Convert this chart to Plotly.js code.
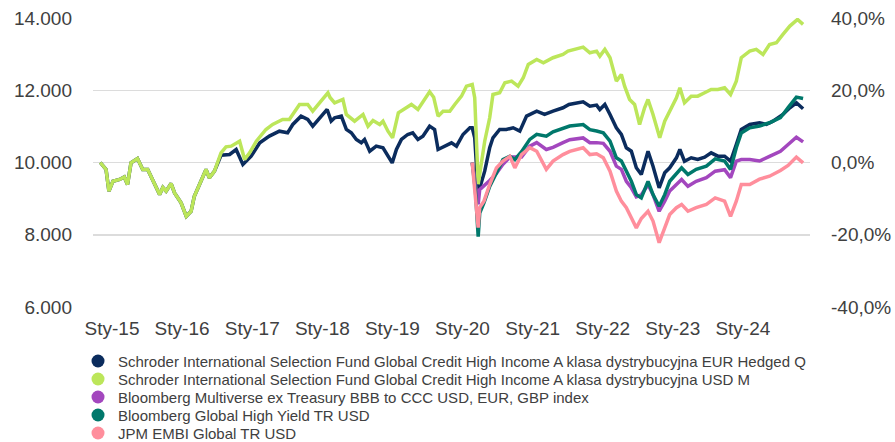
<!DOCTYPE html>
<html>
<head>
<meta charset="utf-8">
<script src="https://cdn.plot.ly/plotly-3.0.1.min.js"></script>
<style>html,body{margin:0;padding:0;background:#fff;}#chart{width:895px;height:442px;}</style>
</head>
<body>
<div id="chart"></div>
<script>
// ---- Series names ----
const seriesNames = [
  'Schroder International Selection Fund Global Credit High Income A klasa dystrybucyjna EUR Hedged Q',
  'Schroder International Selection Fund Global Credit High Income A klasa dystrybucyjna USD M',
  'Bloomberg Multiverse ex Treasury BBB to CCC USD, EUR, GBP index',
  'Bloomberg Global High Yield TR USD',
  'JPM EMBI Global TR USD'
];
const seriesColors = ['#0b2c5d', '#bce65a', '#a347be', '#00786b', '#ff8e9c'];

// ---- Period where both fund share classes overlap (value of 10.000 invested) ----
const earlyDates = ['2014-11-01','2014-12-01','2014-12-16','2015-01-06','2015-02-10','2015-03-06','2015-03-23','2015-04-10','2015-05-14','2015-06-10',
  '2015-07-06','2015-07-23','2015-08-18','2015-09-06','2015-09-23','2015-10-10','2015-11-05','2015-11-23','2015-12-27','2016-01-23',
  '2016-02-17','2016-03-05','2016-04-01','2016-05-05','2016-05-22','2016-06-18'];
const earlyValues = [10000,9806,9205,9482,9530,9600,9390,9990,10110,9806,
  9806,9620,9300,9114,9307,9205,9418,9160,8884,8513,
  8650,9066,9390,9806,9576,9760];

// ---- USD M share class (left axis) ----
const usdDates = ['2016-07-22','2016-08-17','2016-09-13','2016-10-27','2016-11-22','2016-12-18','2017-01-22','2017-03-13','2017-04-17','2017-06-08',
  '2017-07-13','2017-09-04','2017-10-17','2017-11-12','2017-12-25','2018-01-30','2018-02-10',
  '2018-03-06','2018-04-18','2018-05-06','2018-06-18','2018-08-01','2018-08-27','2018-09-22','2018-10-27','2018-11-13','2018-12-09',
  '2019-01-02','2019-02-01','2019-03-14','2019-04-10','2019-05-14','2019-06-01','2019-07-14','2019-08-04','2019-08-27','2019-09-22',
  '2019-10-27','2019-11-22','2019-12-27','2020-01-22',
  '2020-02-21','2020-03-05','2020-03-23','2020-04-26','2020-05-22','2020-06-08','2020-07-13','2020-08-09','2020-09-13','2020-10-17',
  '2020-11-13','2020-12-09','2021-01-22','2021-02-26','2021-04-17','2021-06-08','2021-07-04',
  '2021-09-21','2021-10-26','2021-11-30','2021-12-17','2022-01-12','2022-02-08','2022-03-13','2022-04-08','2022-04-25','2022-05-21',
  '2022-06-16','2022-07-12','2022-08-07','2022-08-25','2022-09-20','2022-10-25','2022-11-20','2022-12-16',
  '2023-01-20','2023-02-07','2023-03-03','2023-04-07','2023-05-11','2023-06-16','2023-07-20','2023-08-24','2023-09-28','2023-10-29',
  '2023-11-28','2023-12-24','2024-02-06','2024-03-11','2024-04-15','2024-05-19','2024-06-24','2024-07-28','2024-09-02','2024-10-12',
  '2024-11-10'];
const usdValues = [10268,10435,10452,10590,10083,10268,10590,10914,11053,11191,
  11191,11607,11607,11421,11698,11930,11800,
  11653,11745,11330,11144,11330,11006,11163,11053,11144,10867,
  10684,11377,11515,11607,11468,11607,11958,11809,11283,11421,
  11421,11607,11836,12113,
  12160,11792,9400,10590,11238,11884,11930,12208,12252,12113,
  12346,12715,12853,12762,12900,12992,13083,
  13194,13038,13083,12945,13130,12900,12252,12438,12113,11745,
  11607,11053,11515,11745,11330,10684,11144,11421,
  11792,12069,11653,11836,11836,11930,12022,12022,12069,11884,
  12252,12900,13083,13130,12992,13268,13315,13545,13776,13961,
  13823];

// ---- EUR Hedged Q share class (left axis) ----
const eurDates = ['2016-07-22','2016-09-05','2016-10-09','2016-11-13','2016-12-26','2017-02-09','2017-03-31','2017-05-22','2017-07-04','2017-07-31',
  '2017-09-12','2017-10-17','2017-11-12','2017-12-17','2018-01-26','2018-02-16','2018-03-06','2018-04-10','2018-05-06','2018-06-01',
  '2018-06-27','2018-07-23','2018-08-09','2018-09-05','2018-10-09','2018-11-13','2018-12-09','2018-12-31','2019-01-22','2019-02-17',
  '2019-03-22','2019-04-17','2019-05-14','2019-06-09','2019-07-14','2019-08-09','2019-08-27','2019-10-01','2019-11-05','2019-12-01',
  '2020-01-04','2020-02-09','2020-02-21','2020-03-05','2020-03-23','2020-04-26','2020-05-22','2020-06-08','2020-07-13','2020-08-17',
  '2020-09-21','2020-10-26','2020-11-30','2021-01-22','2021-03-04','2021-04-17','2021-06-08','2021-07-09','2021-09-21','2021-10-26',
  '2021-11-30','2021-12-17','2022-01-12','2022-02-08','2022-03-13','2022-04-08','2022-05-04','2022-05-30','2022-06-25','2022-07-21',
  '2022-08-25','2022-09-20','2022-10-22','2022-11-20','2022-12-16','2023-01-20','2023-02-07','2023-03-03','2023-04-07','2023-05-11',
  '2023-06-16','2023-07-20','2023-08-24','2023-09-28','2023-10-29','2023-11-28','2023-12-24','2024-02-06','2024-03-28','2024-05-02',
  '2024-06-06','2024-07-28','2024-09-02','2024-10-06','2024-11-10'];
const eurValues = [10200,10222,10360,9945,10175,10545,10730,10867,10822,11053,
  11283,11191,11006,11238,11468,11144,11238,11283,10914,10822,
  10637,10545,10637,10313,10452,10407,10175,9990,10360,10637,
  10776,10822,10637,10730,11006,10914,10360,10452,10545,10452,
  10776,10961,10961,10684,9150,9760,10407,10684,10914,10914,
  10961,10867,11283,11421,11330,11421,11515,11607,11681,11560,
  11588,11468,11607,11330,10961,10776,10407,10313,9853,9668,
  10313,9898,9300,9715,9853,10130,10360,10036,10130,10083,
  10147,10268,10175,10175,10036,10499,10914,11053,11100,11053,
  11144,11330,11515,11653,11487];

// ---- Benchmarks (right axis, cumulative return in %) ----
const benchDates = ['2020-02-21','2020-03-09','2020-03-23','2020-03-31','2020-04-22','2020-05-22','2020-06-26','2020-07-30','2020-09-04','2020-09-30',
  '2020-11-04','2020-12-17','2021-01-22','2021-03-13','2021-04-17','2021-06-08','2021-07-13','2021-09-21','2021-10-26','2021-11-30',
  '2022-01-04','2022-02-08','2022-03-13','2022-04-08','2022-05-04','2022-05-30','2022-06-25','2022-07-21','2022-08-25','2022-09-20',
  '2022-10-22','2022-11-20','2022-12-16','2023-01-20','2023-02-16','2023-03-21','2023-05-03','2023-06-25','2023-08-10','2023-09-28',
  '2023-10-29','2023-11-28','2023-12-24','2024-02-06','2024-03-28','2024-05-19','2024-07-15','2024-08-24','2024-10-06','2024-11-10'];
const multiverseReturns = [0,-6,-11.6,-7.5,-6.5,-5.0,-3.0,-0.5,1.5,1.5,
  1.5,4.5,5.5,3.6,4.2,5.5,6.3,6.8,5.5,5.5,
  5.3,3.1,-1.0,-1.9,-5.2,-7.0,-9.5,-9.0,-6.1,-8.9,
  -13.5,-10.7,-7.9,-6.1,-4.7,-6.6,-5.2,-4.2,-2.4,-2.0,
  -4.2,0.4,0.8,0.8,0.4,1.7,3.1,5.0,7.0,5.7];
const globalHyReturns = [0,-8,-20.5,-14,-11.2,-6.6,-2.9,0.8,1.7,0.8,
  3.0,6.4,7.8,7.3,8.5,9.5,10.1,10.5,9.1,8.7,
  8.2,5.9,1.3,0.4,-2.4,-5.2,-8.9,-9.8,-5.2,-8.9,
  -12.1,-8.9,-5.2,-3.3,-1.5,-3.3,-1.9,-1.0,1.0,0.4,
  -1.9,4.1,8.2,9.6,10.1,11.0,12.4,15.2,18.1,17.7];
const embiReturns = [0,-10.7,-18,-12.5,-10.7,-6.1,-1.5,0.4,1.7,-1.5,
  2.2,4.1,3.1,-1.9,0.4,2.2,3.1,4.1,2.2,2.4,
  1.3,-2.4,-7.9,-10.7,-12.5,-15.3,-18.1,-15.5,-13.5,-16.2,
  -22.2,-18.1,-14.4,-12.5,-11.6,-13.5,-12.5,-11.6,-9.8,-10.7,
  -14.9,-10.7,-6.1,-6.1,-4.6,-3.8,-2.2,-0.8,1.5,-0.1];

// ---- Axis ticks ----
const xTickDates = ['2015-01-01','2016-01-01','2017-01-01','2018-01-01','2019-01-01','2020-01-01','2021-01-01','2022-01-01','2023-01-01','2024-01-01'];
const xTickLabels = ['Sty-15','Sty-16','Sty-17','Sty-18','Sty-19','Sty-20','Sty-21','Sty-22','Sty-23','Sty-24'];
const yLeftTicks = [6000, 8000, 10000, 12000, 14000];
const yLeftLabels = ['6.000','8.000','10.000','12.000','14.000'];
const yRightTicks = [-40, -20, 0, 20, 40];
const yRightLabels = ['-40,0%','-20,0%','0,0%','20,0%','40,0%'];

// ---- Build traces ----
const FONT = 'Liberation Sans, Arial, Helvetica, sans-serif';
const lineW = 3.5;
const traces = [
  {x: earlyDates.concat(eurDates), y: earlyValues.concat(eurValues), yaxis: 'y', color: seriesColors[0]},
  {x: earlyDates.concat(usdDates), y: earlyValues.concat(usdValues), yaxis: 'y', color: seriesColors[1]},
  {x: benchDates, y: multiverseReturns, yaxis: 'y2', color: seriesColors[2]},
  {x: benchDates, y: globalHyReturns, yaxis: 'y2', color: seriesColors[3]},
  {x: benchDates, y: embiReturns, yaxis: 'y2', color: seriesColors[4]}
].map((t, i) => ({
  type: 'scatter', mode: 'lines', x: t.x, y: t.y, yaxis: t.yaxis,
  line: {color: t.color, width: lineW}, name: seriesNames[i], showlegend: false, hoverinfo: 'skip'
}));

const legendIds = ['legend','legend2','legend3','legend4','legend5'];
const legendTraces = seriesNames.map((n, i) => ({
  type: 'scatter', mode: 'markers', x: [null], y: [null], name: n,
  marker: {color: seriesColors[i], size: 13, symbol: 'circle'},
  legend: legendIds[i], showlegend: true
}));

const layout = {
  width: 895, height: 442,
  margin: {l: 93, r: 85, t: 18, b: 135, autoexpand: false},
  paper_bgcolor: '#ffffff', plot_bgcolor: '#ffffff',
  font: {family: FONT, size: 19, color: '#404040'},
  showlegend: true,
  xaxis: {
    type: 'date', range: ['2014-09-24', '2024-12-16'],
    tickvals: xTickDates, ticktext: xTickLabels,
    showgrid: false, zeroline: false, showline: false, ticks: '',
    ticklabelstandoff: 8,
    tickfont: {family: FONT, size: 19, color: '#404040'}
  },
  yaxis: {
    range: [6000, 14000], tickvals: yLeftTicks, ticktext: yLeftLabels,
    showgrid: true, gridcolor: '#dcdcdc', gridwidth: 1.5, zeroline: false, showline: false, ticks: '',
    ticklabelstandoff: 20,
    tickfont: {family: FONT, size: 19, color: '#404040'}
  },
  yaxis2: {
    overlaying: 'y', side: 'right', range: [-40, 40], tickvals: yRightTicks, ticktext: yRightLabels,
    showgrid: false, zeroline: false, showline: false, ticks: '',
    ticklabelstandoff: 20,
    tickfont: {family: FONT, size: 19, color: '#404040'}
  }
};
const legendTopPx = 344.75;
legendIds.forEach((id, i) => {
  layout[id] = {
    x: -0.0209, xanchor: 'left',
    y: (307 - (legendTopPx + 18 * i)) / 289, yanchor: 'top',
    bgcolor: 'rgba(0,0,0,0)', borderwidth: 0,
    font: {family: FONT, size: 15, color: '#404040'}
  };
});

Plotly.newPlot('chart', traces.concat(legendTraces), layout, {staticPlot: true, displayModeBar: false});
</script>
</body>
</html>
